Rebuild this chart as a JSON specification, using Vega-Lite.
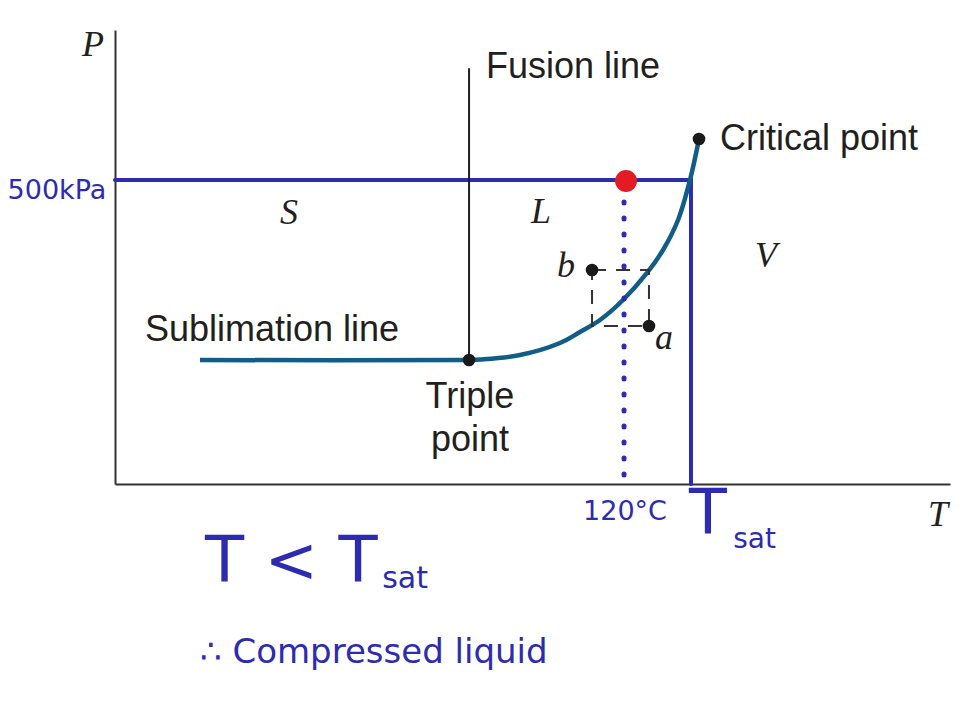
{
  "$schema": "https://vega.github.io/schema/vega-lite/v6.json",
  "width": 835,
  "height": 454,
  "autosize": {"type": "none"},
  "padding": {"left": 115, "top": 30, "right": 16, "bottom": 219},
  "background": "white",
  "config": {
    "view": {"stroke": null},
    "axis": {"domain": true, "domainColor": "#333333", "domainWidth": 2, "ticks": false, "labels": false, "grid": false, "title": null}
  },
  "datasets": {
    "blue": [
      {"o": 1, "T": 0, "P": 66.96},
      {"o": 2, "T": 68.98, "P": 66.96},
      {"o": 3, "T": 68.98, "P": 0}
    ],
    "fusion": [
      {"T": 42.4, "P": 27.31},
      {"T": 42.4, "P": 91.6}
    ],
    "curve": [
      {"T": 10.18, "P": 27.31},
      {"T": 42.4, "P": 27.31},
      {"T": 43.71, "P": 27.42},
      {"T": 48.5, "P": 28.41},
      {"T": 53.29, "P": 31.06},
      {"T": 55.69, "P": 33.48},
      {"T": 58.08, "P": 36.12},
      {"T": 60.84, "P": 40.53},
      {"T": 63.71, "P": 46.48},
      {"T": 65.63, "P": 51.54},
      {"T": 67.43, "P": 58.15},
      {"T": 68.86, "P": 66.96},
      {"T": 69.94, "P": 75.99}
    ],
    "dotted": [
      {"T": 60.96, "P": 1.98},
      {"T": 60.96, "P": 63.66}
    ],
    "box": [
      {"T1": 57.13, "T2": 63.95, "P1": 47.14, "P2": 34.8}
    ],
    "dots": [
      {"name": "triple", "T": 42.4, "P": 27.31},
      {"name": "critical", "T": 69.94, "P": 75.99},
      {"name": "b", "T": 57.13, "P": 47.14},
      {"name": "a", "T": 63.95, "P": 34.8}
    ],
    "red": [
      {"T": 61.2, "P": 66.74}
    ],
    "sansLeft": [
      {"T": 44.43, "P": 91.85, "text": "Fusion line"},
      {"T": 72.46, "P": 75.99, "text": "Critical point"},
      {"T": 3.59, "P": 33.92, "text": "Sublimation line"}
    ],
    "sansCenter": [
      {"T": 42.51, "P": 19.16, "text": "Triple"},
      {"T": 42.51, "P": 9.69, "text": "point"}
    ],
    "serif": [
      {"T": -2.63, "P": 96.7, "text": "P"},
      {"T": 98.56, "P": -6.83, "text": "T"},
      {"T": 20.84, "P": 59.69, "text": "S"},
      {"T": 51.02, "P": 59.91, "text": "L"},
      {"T": 77.96, "P": 50.22, "text": "V"},
      {"T": 54.01, "P": 48.02, "text": "b"},
      {"T": 65.75, "P": 32.16, "text": "a"}
    ],
    "handMid": [
      {"T": -6.95, "P": 64.5, "text": "500kPa", "s": 27},
      {"T": 61.08, "P": -6.17, "text": "120°C", "s": 27},
      {"T": 71.02, "P": -6.5, "text": "T", "s": 62},
      {"T": 76.6, "P": -12.33, "text": "sat", "s": 28}
    ],
    "handLeft": [
      {"T": 10.78, "P": -17.4, "text": "T < T", "s": 64},
      {"T": 32.0, "P": -21.0, "text": "sat", "s": 30},
      {"T": 10.18, "P": -37.22, "text": "∴ Compressed liquid", "s": 34}
    ]
  },
  "encoding": {
    "x": {"field": "T", "type": "quantitative", "scale": {"domain": [0, 100], "nice": false, "zero": false}, "axis": {"orient": "bottom"}},
    "y": {"field": "P", "type": "quantitative", "scale": {"domain": [0, 100], "nice": false, "zero": false}, "axis": {"orient": "left"}}
  },
  "layer": [
    {
      "data": {"name": "blue"},
      "mark": {"type": "line", "color": "#2d2bb0", "strokeWidth": 4, "strokeCap": "round"},
      "encoding": {"order": {"field": "o", "type": "quantitative"}}
    },
    {
      "data": {"name": "fusion"},
      "mark": {"type": "line", "color": "#231f20", "strokeWidth": 2}
    },
    {
      "data": {"name": "curve"},
      "mark": {"type": "line", "color": "#125d85", "strokeWidth": 4.5, "interpolate": "catmull-rom"}
    },
    {
      "data": {"name": "dotted"},
      "mark": {"type": "line", "color": "#2d2bb0", "strokeWidth": 5, "strokeCap": "round", "strokeDash": [1, 15]}
    },
    {
      "data": {"name": "box"},
      "mark": {"type": "rect", "filled": false, "stroke": "#333333", "strokeWidth": 2, "strokeDash": [14, 10]},
      "encoding": {
        "x": {"field": "T1", "type": "quantitative"},
        "x2": {"field": "T2"},
        "y": {"field": "P1", "type": "quantitative"},
        "y2": {"field": "P2"}
      }
    },
    {
      "data": {"name": "dots"},
      "mark": {"type": "point", "filled": true, "color": "#1a1a1a", "size": 160, "opacity": 1}
    },
    {
      "data": {"name": "red"},
      "mark": {"type": "point", "filled": true, "color": "#e31b23", "size": 480, "opacity": 1}
    },
    {
      "data": {"name": "sansLeft"},
      "mark": {"type": "text", "align": "left", "baseline": "middle", "font": "Liberation Sans", "fontSize": 36, "color": "#231f20"},
      "encoding": {"text": {"field": "text"}}
    },
    {
      "data": {"name": "sansCenter"},
      "mark": {"type": "text", "align": "center", "baseline": "middle", "font": "Liberation Sans", "fontSize": 36, "color": "#231f20"},
      "encoding": {"text": {"field": "text"}}
    },
    {
      "data": {"name": "serif"},
      "mark": {"type": "text", "align": "center", "baseline": "middle", "font": "Liberation Serif", "fontStyle": "italic", "fontSize": 36, "color": "#231f20"},
      "encoding": {"text": {"field": "text"}}
    },
    {
      "data": {"name": "handMid"},
      "mark": {"type": "text", "align": "center", "baseline": "middle", "font": "DejaVu Sans", "color": "#2d2bb0"},
      "encoding": {"text": {"field": "text"}, "size": {"field": "s", "type": "quantitative", "scale": null}}
    },
    {
      "data": {"name": "handLeft"},
      "mark": {"type": "text", "align": "left", "baseline": "middle", "font": "DejaVu Sans", "color": "#2d2bb0"},
      "encoding": {"text": {"field": "text"}, "size": {"field": "s", "type": "quantitative", "scale": null}}
    }
  ]
}
